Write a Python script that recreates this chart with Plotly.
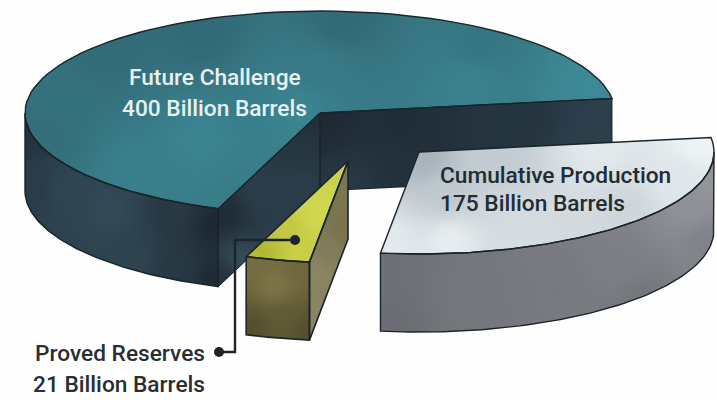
import numpy as np
import plotly.graph_objects as go

# Oil volumes, billion barrels
SLICE_NAMES = ["Future Challenge", "Proved Reserves", "Cumulative Production"]
SLICE_VALUES = [400, 21, 175]
UNIT = "Billion Barrels"

W, H = 717, 400
START_DEG = 8.2
RX, RY = 295.0, 102.0
DEPTH = 78.0
APEX = {"main": (320.0, 113.0), "proved": (348.0, 161.0), "cumulative": (419.0, 152.0)}

spans = np.array(SLICE_VALUES, dtype=float) / sum(SLICE_VALUES) * 360.0
edges = START_DEG + np.concatenate([[0.0], np.cumsum(spans)])

OUTLINE = "#18252b"
DARK_WALL = [[0, "#1d2732"], [1, "#385460"]]
TEAL = [[0, "#2f5f6c"], [1, "#3f909c"]]
SILVER = [[0, "#a6b1b9"], [1, "#eef4f6"]]
STEEL = [[0, "#5d5e65"], [1, "#9a9ba0"]]
LIME = [[0, "#a3ab2c"], [1, "#d2d84e"]]
OLIVE = [[0, "#534c2c"], [1, "#8a8250"]]
OLIVE_SIDE = [[0, "#6a6540"], [1, "#938e6c"]]


def arc(center, t0, t1, n=90, drop=0.0):
    t = np.radians(np.linspace(t0, t1, n))
    return center[0] + RX * np.cos(t), center[1] - RY * np.sin(t) + drop


def wedge(center, t0, t1):
    ax, ay = arc(center, t0, t1)
    return np.r_[center[0], ax, center[0]], np.r_[center[1], ay, center[1]]


def curved_wall(center, t0, t1):
    tx, ty = arc(center, t0, t1)
    bx, by = arc(center, t0, t1, drop=DEPTH)
    return np.r_[tx, bx[::-1], tx[0]], np.r_[ty, by[::-1], ty[0]]


def flat_wall(p, q):
    return (np.array([p[0], q[0], q[0], p[0], p[0]]),
            np.array([p[1], q[1], q[1] + DEPTH, p[1] + DEPTH, p[1]]))


def inside(px, py, gx, gy):
    hit = np.zeros(gx.shape, dtype=bool)
    for i in range(len(px) - 1):
        x0, y0, x1, y1 = px[i], py[i], px[i + 1], py[i + 1]
        if y0 == y1:
            continue
        crosses = (y0 > gy) != (y1 > gy)
        hit ^= crosses & (gx < (x1 - x0) * (gy - y0) / (y1 - y0) + x0)
    return hit


def face(fig, poly, scale, stops, axes, width=1.4):
    """Fill a polygon with a soft shade blended between (x, y, level) stops."""
    px, py = poly
    x = np.arange(max(int(px.min()) - 1, 0), min(int(px.max()) + 2, W)) + 0.5
    y = np.arange(max(int(py.min()) - 1, 0), min(int(py.max()) + 2, H)) + 0.5
    gx, gy = np.meshgrid(x, y)
    stops = np.array(stops, dtype=float)
    w = np.stack([1.0 / (((gx - sx) ** 2 + (gy - sy) ** 2) + 60.0) ** 1.3 for sx, sy, _ in stops])
    z = (w * stops[:, 2, None, None]).sum(0) / w.sum(0)
    z[~inside(px, py, gx, gy)] = np.nan
    fig.add_trace(go.Heatmap(x=x, y=y, z=z.astype("float32").tolist(), zmin=0, zmax=1,
                             colorscale=scale, showscale=False, hoverinfo="skip",
                             xaxis=axes[0], yaxis=axes[1]))
    fig.add_trace(go.Scatter(x=px, y=py, mode="lines", hoverinfo="skip",
                             line=dict(color=OUTLINE, width=width),
                             xaxis=axes[0], yaxis=axes[1]))


fig = go.Figure()

# Each slice sits on its own overlaid axis pair so the nearer ones stack on top
MAIN_AXES, CUM_AXES, PROVED_AXES = ("x", "y"), ("x2", "y2"), ("x3", "y3")

# Large slice: walls first, then the top surface
c = APEX["main"]
end0 = arc(c, edges[0], edges[0], n=1)
end1 = arc(c, edges[1], edges[1], n=1)
face(fig, flat_wall(c, (end0[0][0], end0[1][0])), DARK_WALL,
     [(325, 120, .05), (400, 125, .12), (400, 165, .22), (520, 115, .3), (600, 105, .5),
      (600, 135, .55), (350, 185, .4)], MAIN_AXES, 1)
face(fig, flat_wall(c, (end1[0][0], end1[1][0])), DARK_WALL,
     [(224, 215, .1), (226, 275, .25), (240, 262, .85), (262, 190, .5), (300, 150, .35),
      (316, 125, .2), (300, 190, .5)], MAIN_AXES, 1)
face(fig, curved_wall(c, 180, edges[1]), DARK_WALL,
     [(28, 130, .25), (30, 190, .45), (70, 190, .7), (110, 210, .8), (130, 260, .65),
      (175, 210, .4), (180, 270, .4), (216, 225, .02), (216, 280, .05)], MAIN_AXES)
face(fig, wedge(c, edges[0], edges[1]), TEAL,
     [(60, 110, .4), (110, 50, .25), (200, 30, .2), (340, 20, .2), (480, 40, .45),
      (590, 85, .85), (470, 85, .7), (320, 70, .55), (200, 140, .75), (130, 170, .65),
      (230, 195, .6), (300, 110, .75), (50, 130, .3)], MAIN_AXES)

# Cumulative production slice
c = APEX["cumulative"]
face(fig, curved_wall(c, edges[2], 360), STEEL,
     [(382, 262, .3), (390, 325, .25), (470, 300, .4), (560, 290, .45), (620, 265, .55),
      (690, 210, .85), (710, 180, .9), (705, 240, .6), (640, 300, .4)], CUM_AXES)
face(fig, wedge(c, edges[2], edges[3]), SILVER,
     [(424, 158, .02), (445, 195, .35), (392, 245, .85), (500, 155, .4), (600, 145, .85),
      (700, 140, 1), (680, 180, .8), (625, 210, .55), (520, 235, .65), (450, 242, .9)], CUM_AXES)

# Proved reserves slice
c = APEX["proved"]
ex, ey = arc(c, edges[2], edges[2], n=1)
face(fig, flat_wall(c, (ex[0], ey[0])), OLIVE_SIDE,
     [(345, 180, .4), (345, 230, .35), (325, 250, .55), (315, 310, .75), (315, 270, .8)],
     PROVED_AXES, 1.6)
face(fig, curved_wall(c, edges[1], edges[2]), OLIVE,
     [(252, 260, .6), (305, 262, .5), (275, 285, .75), (252, 326, .05), (306, 332, .05),
      (285, 320, .25)], PROVED_AXES, 1.6)
face(fig, wedge(c, edges[1], edges[2]), LIME,
     [(344, 168, .85), (262, 250, .3), (300, 254, .8), (318, 215, 1), (285, 230, .65)],
     PROVED_AXES, 1.6)

# Leader from the proved reserves slice to its caption
fig.add_trace(go.Scatter(x=[295, 235, 235, 219], y=[240, 240, 352, 352], mode="lines",
                         hoverinfo="skip", line=dict(color="#1c2429", width=2.4),
                         xaxis="x3", yaxis="y3"))
fig.add_trace(go.Scatter(x=[295, 219], y=[240, 352], mode="markers", hoverinfo="skip",
                         marker=dict(color="#1c2429", size=10), xaxis="x3", yaxis="y3"))

captions = [
    (SLICE_NAMES[0], 215, 77, "center", "#e6f1f1"),
    (f"{SLICE_VALUES[0]} {UNIT}", 214, 108, "center", "#e6f1f1"),
    (SLICE_NAMES[2], 438, 175, "left", "#232b33"),
    (f"{SLICE_VALUES[2]} {UNIT}", 438, 203, "left", "#232b33"),
    (SLICE_NAMES[1], 33, 353, "left", "#2a2e33"),
    (f"{SLICE_VALUES[1]} {UNIT}", 31, 384, "left", "#2a2e33"),
]
for text, x, y, anchor, color in captions:
    fig.add_annotation(x=x, y=y, text=text, showarrow=False, xanchor=anchor, yanchor="middle",
                       font=dict(family="Roboto", size=22.7, weight=500, color=color))

x_axis = dict(range=[0, W], visible=False, fixedrange=True)
y_axis = dict(range=[H, 0], visible=False, fixedrange=True)
fig.update_layout(
    width=W, height=H, margin=dict(l=0, r=0, t=0, b=0), showlegend=False,
    paper_bgcolor="#fefefe", plot_bgcolor="rgba(0,0,0,0)",
    xaxis=x_axis, yaxis=y_axis,
    xaxis2=dict(x_axis, overlaying="x"), yaxis2=dict(y_axis, overlaying="y"),
    xaxis3=dict(x_axis, overlaying="x"), yaxis3=dict(y_axis, overlaying="y"),
)
fig.write_html("out.html")
